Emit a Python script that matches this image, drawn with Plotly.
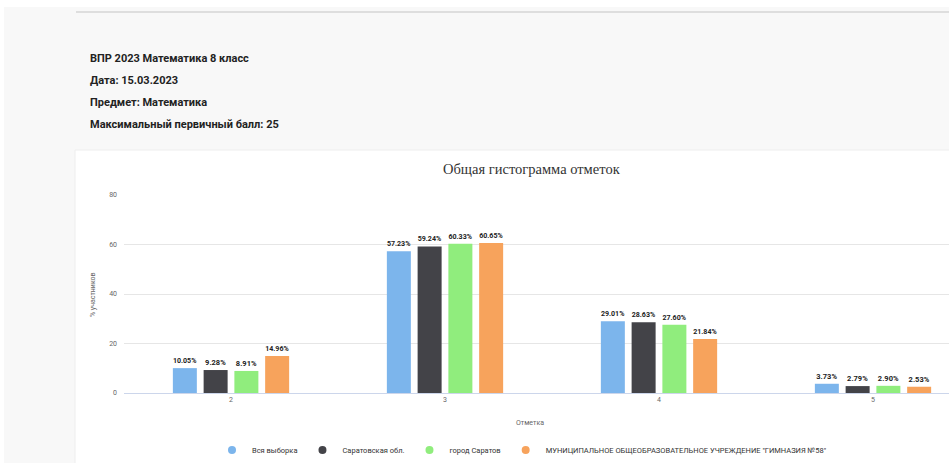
import plotly.graph_objects as go

categories = ["2", "3", "4", "5"]
series_names = [
    "Вся выборка",
    "Саратовская обл.",
    "город Саратов",
    "МУНИЦИПАЛЬНОЕ ОБЩЕОБРАЗОВАТЕЛЬНОЕ УЧРЕЖДЕНИЕ \"ГИМНАЗИЯ №58\"",
]
vals_all = [10.05, 57.23, 29.01, 3.73]
vals_region = [9.28, 59.24, 28.63, 2.79]
vals_city = [8.91, 60.33, 27.60, 2.90]
vals_school = [14.96, 60.65, 21.84, 2.53]
colors = ["#7cb5ec", "#434348", "#90ed7d", "#f7a35c"]

header_lines = [
    "ВПР 2023 Математика 8 класс",
    "Дата: 15.03.2023",
    "Предмет: Математика",
    "Максимальный первичный балл: 25",
]
chart_title = "Общая гистограмма отметок"
x_title = "Отметка"
y_title = "% участников"

W, H = 949, 463
L, R_EDGE, TOP, BOT = 124, 949, 195, 393


def px(x):
    return (x - L) / (R_EDGE - L)


def py(y):
    return (BOT - y) / (BOT - TOP)


fig = go.Figure()
for i, (name, vals, c) in enumerate(zip(series_names, [vals_all, vals_region, vals_city, vals_school], colors)):
    fig.add_trace(go.Bar(
        x=categories, y=vals, name=name, marker=dict(color=c, line=dict(width=0)),
        text=[f"<b>{v:.2f}%</b>" for v in vals], textposition="outside", cliponaxis=False,
        textfont=dict(size=7.5, color="#222", family="Roboto"),
        showlegend=False, legendgroup=f"g{i}",
    ))
for i, (name, c) in enumerate(zip(series_names, colors)):
    fig.add_trace(go.Scatter(
        x=[None], y=[None], mode="markers", name=name, legendgroup=f"g{i}",
        marker=dict(color=c, size=8, symbol="circle"), showlegend=True,
    ))

shapes = [
    dict(type="rect", xref="paper", yref="paper", x0=px(-5), x1=px(960), y0=py(7), y1=py(-5),
         fillcolor="white", line=dict(width=0), layer="below"),
    dict(type="rect", xref="paper", yref="paper", x0=px(-5), x1=px(4), y0=py(470), y1=py(-5),
         fillcolor="white", line=dict(width=0), layer="below"),
    dict(type="line", xref="paper", yref="paper", x0=px(76), x1=px(960), y0=py(12), y1=py(12),
         line=dict(color="#dedede", width=2), layer="below"),
    dict(type="rect", xref="paper", yref="paper", x0=px(75), x1=px(960), y0=py(470), y1=py(150),
         fillcolor="white", line=dict(color="#eeeeee", width=1), layer="below"),
]

annotations = []
for i, t in enumerate(header_lines):
    annotations.append(dict(
        text=f"<b>{t}</b>", x=px(88), y=py(58 + i * 22.3), xref="paper", yref="paper",
        xanchor="left", yanchor="middle", showarrow=False,
        font=dict(size=11, color="#222", family="Roboto"),
    ))
annotations.append(dict(
    text=chart_title, x=px(532), y=py(169), xref="paper", yref="paper",
    xanchor="center", yanchor="middle", showarrow=False,
    font=dict(size=14.5, color="#333", family="Liberation Serif"),
))
annotations.append(dict(
    text=x_title, x=px(530), y=py(423), xref="paper", yref="paper",
    xanchor="center", yanchor="middle", showarrow=False,
    font=dict(size=7, color="#666", family="Roboto"),
))
annotations.append(dict(
    text=y_title, x=px(93), y=py(295), xref="paper", yref="paper", textangle=-90,
    xanchor="center", yanchor="middle", showarrow=False,
    font=dict(size=7, color="#666", family="Roboto"),
))

fig.update_layout(
    width=W, height=H,
    margin=dict(l=L, r=W - R_EDGE, t=TOP, b=H - BOT, autoexpand=False),
    paper_bgcolor="#f8f8f8", plot_bgcolor="white",
    barmode="group", bargap=0.425, bargroupgap=0.22,
    shapes=shapes, annotations=annotations,
    showlegend=True,
    legend=dict(orientation="h", x=px(522), xanchor="center", y=py(450), yanchor="middle",
                font=dict(size=7.5, color="#333", family="Roboto"), bgcolor="rgba(0,0,0,0)",
                itemwidth=30, tracegroupgap=0, itemclick=False, itemdoubleclick=False),
    xaxis=dict(type="category", range=[-0.5, -0.5 + (R_EDGE - L) / 214.0],
               showline=True, linecolor="#ccd6eb", linewidth=1, showgrid=False,
               tickfont=dict(size=7, color="#666", family="Roboto"), ticks=""),
    yaxis=dict(range=[0, 80], tickvals=[0, 20, 40, 60, 80], showgrid=True, gridcolor="#e6e6e6",
               zeroline=False, tickfont=dict(size=7, color="#666", family="Roboto"),
               ticklabelstandoff=6),
    font=dict(family="Roboto"),
)

fig.write_html(
    "out.html",
    config={"displayModeBar": False},
    post_script="document.body.style.margin='0';document.body.style.overflow='hidden';"
                "document.documentElement.style.overflow='hidden';",
)
